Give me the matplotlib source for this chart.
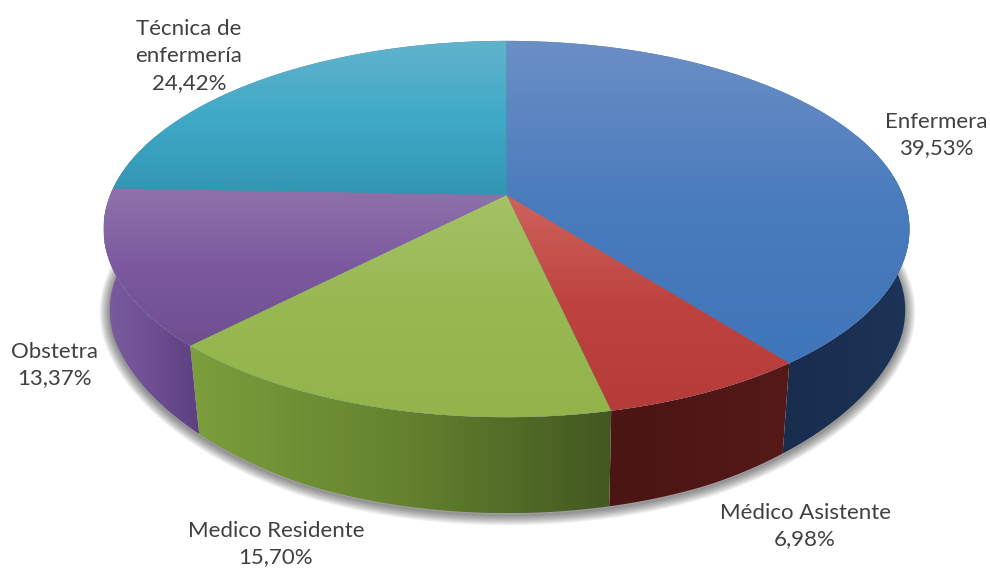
import numpy as np
import matplotlib
matplotlib.use("Agg")
import matplotlib.pyplot as plt
from matplotlib.path import Path
from matplotlib.patches import PathPatch
from matplotlib.colors import LinearSegmentedColormap as LSC

categories = ["Enfermera", "Médico Asistente", "Medico Residente", "Obstetra", "Técnica de\nenfermería"]
values = [39.53, 6.98, 15.70, 13.37, 24.42]
value_labels = ["39,53%", "6,98%", "15,70%", "13,37%", "24,42%"]
top_colors = [["#6B8FC5", "#4A7CBD", "#3F75BA"],
              ["#CE625C", "#BE4340", "#B53C39"],
              ["#A5C267", "#98B851", "#93B44B"],
              ["#8F72AA", "#7C599F", "#6F4E90"],
              ["#62B3CC", "#3FA9C7", "#3296B2"]]
wall_colors = [["#182C4E", "#1A3052", "#1C3458"],
               ["#4A1513", "#4F1715", "#551A17"],
               ["#7C9E3C", "#65832F", "#435821"],
               ["#7A5CA0", "#6E4F92", "#5C4080"],
               ["#2F7F95", "#2F7F95", "#2F7F95"]]
label_pos = [(936, 135), (805, 526), (276, 544), (55, 365), (189, 56)]

W, H = 990, 570
CX, CY = 506.5, 195
B, A, K = 396.3, 182, 0.1808
SY, CY2 = 1.063, 277

fig = plt.figure(figsize=(W / 100, H / 100), dpi=100)
ax = fig.add_axes([0, 0, 1, 1])
ax.axis("off")


def top_xy(t):
    u, v = np.sin(t), -np.cos(t)
    d = 1 - K * v
    return CX + B * u / d, CY + A * v / d


def bottom_xy(t):
    u, v = np.sin(t), -np.cos(t)
    d = 1 - K * v
    sx = 0.987 - 0.014 * np.clip((v - 0.3) / 0.5, 0, 1)
    bump = 5 * np.clip(1 - ((v - 0.45) / 0.45) ** 2, 0, 1)
    return CX + 1 + sx * B * u / d, CY2 + SY * A * v / d - bump


def closed(x, y):
    verts = np.column_stack([x, y])
    verts = np.vstack([verts, verts[0]])
    return Path(verts, closed=True)


def fill(path, colors, horizontal, z):
    xs, ys = path.vertices[:, 0], path.vertices[:, 1]
    cmap = LSC.from_list("g", colors)
    g = np.linspace(0, 1, 256)
    img = g[None, :] if horizontal else g[:, None]
    im = ax.imshow(img, cmap=cmap, aspect="auto", origin="upper",
                   extent=[xs.min(), xs.max(), ys.max(), ys.min()],
                   zorder=z, interpolation="bilinear")
    im.set_clip_path(PathPatch(path, transform=ax.transData))


# Soft shadow under the pie
full = np.linspace(0, 2 * np.pi, 400)
bx, by = bottom_xy(full)
shadow = closed(bx, by + 2)
for lw in np.arange(1, 15, 1.5):
    ax.add_patch(PathPatch(shadow, fc="none", ec=(0, 0, 0, 0.05), lw=lw, zorder=1))

fracs = np.cumsum([0] + values) / sum(values) * 2 * np.pi
FRONT_FROM = np.deg2rad(70)
FRONT_TO = np.deg2rad(290)

# Walls (only the part of the rim that faces the viewer)
for i in range(len(values)):
    a0 = max(fracs[i], FRONT_FROM)
    a1 = min(fracs[i + 1], FRONT_TO)
    if a1 <= a0:
        continue
    t = np.linspace(a0, a1, 120)
    tx, ty = top_xy(t)
    bx, by = bottom_xy(t)
    p = closed(np.r_[tx, bx[::-1]], np.r_[ty, by[::-1]])
    fill(p, wall_colors[i], True, 2 + i * 0.01)

# Backing for the top face so slice seams do not show white
fx, fy = top_xy(full)
ax.add_patch(PathPatch(closed(fx, fy), fc="#5B7FA8", ec="none", zorder=2.9))

# Top face
for i in range(len(values)):
    t = np.linspace(fracs[i], fracs[i + 1], 200)
    tx, ty = top_xy(t)
    p = closed(np.r_[CX, tx], np.r_[CY, ty])
    fill(p, top_colors[i], False, 3 + i * 0.01)

# Labels
for name, val, (lx, ly) in zip(categories, value_labels, label_pos):
    ax.text(lx, ly, f"{name}\n{val}", ha="center", va="center", color="#404040",
            fontsize=16, family="Lato", linespacing=1.42, zorder=5)

ax.set_xlim(0, W)
ax.set_ylim(H, 0)
fig.savefig("out.png", dpi=100, facecolor="white")
